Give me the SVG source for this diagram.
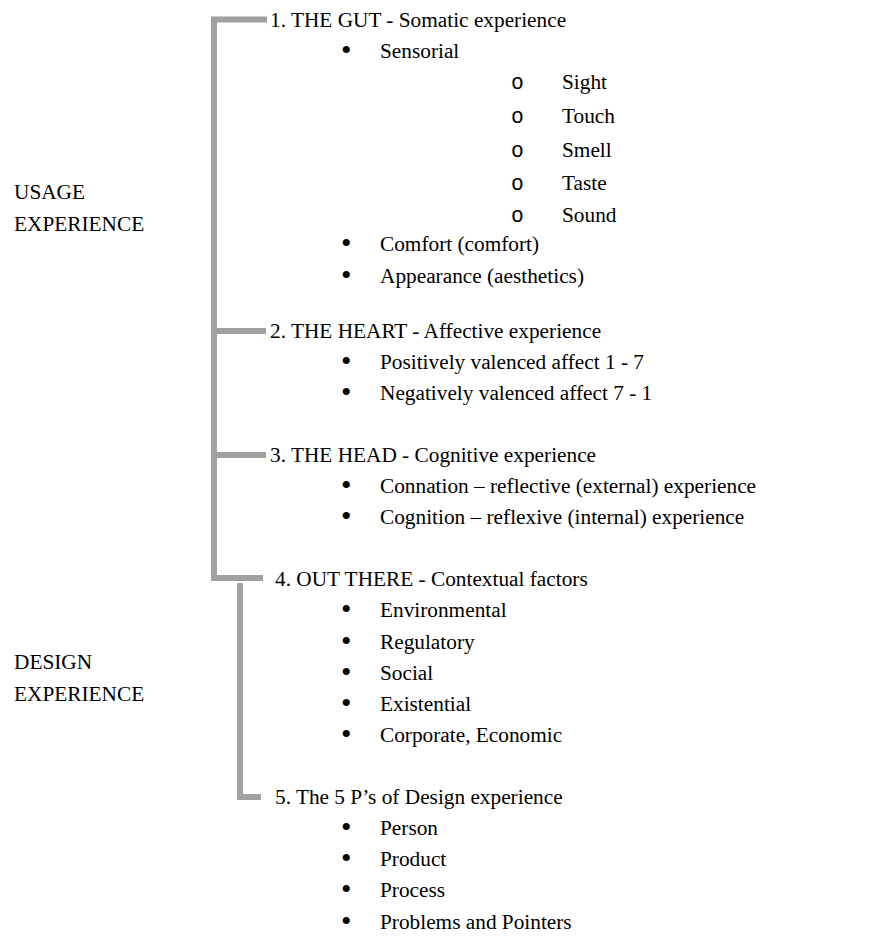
<svg xmlns="http://www.w3.org/2000/svg" width="884" height="945" viewBox="0 0 884 945">
<style>
text{font-family:"Liberation Serif","Times New Roman",serif;font-size:21.3px;fill:#000}
.b{font-size:30px}
.o{font-family:"Liberation Mono","Courier New",monospace;font-size:21.3px}
.ln{stroke:#a0a0a0;stroke-width:6;fill:none}
</style>
<rect width="884" height="945" fill="#fff"/>
<g id="connectors">
<path class="ln" d="M267,19.5 H214 V578 H263"/>
<path class="ln" d="M217,331 H266"/>
<path class="ln" d="M217,455 H266"/>
<path class="ln" d="M240,583 V797 H261"/>
</g>
<g id="usage"><text x="14" y="199">USAGE</text><text x="14" y="231">EXPERIENCE</text></g>
<g id="design"><text x="14" y="669">DESIGN</text><text x="14" y="701">EXPERIENCE</text></g>
<g id="gut">
<text x="270" y="27">1. THE GUT - Somatic experience</text>
<text x="341" y="60" class="b">•</text><text x="380" y="58">Sensorial</text>
<text x="511" y="89" class="o">o</text><text x="562" y="89">Sight</text>
<text x="511" y="123" class="o">o</text><text x="562" y="123">Touch</text>
<text x="511" y="157" class="o">o</text><text x="562" y="157">Smell</text>
<text x="511" y="190" class="o">o</text><text x="562" y="190">Taste</text>
<text x="511" y="222" class="o">o</text><text x="562" y="222">Sound</text>
<text x="341" y="253" class="b">•</text><text x="380" y="251">Comfort (comfort)</text>
<text x="341" y="285" class="b">•</text><text x="380" y="283">Appearance (aesthetics)</text>
</g>
<g id="heart">
<text x="270" y="338">2. THE HEART - Affective experience</text>
<text x="341" y="371" class="b">•</text><text x="380" y="369">Positively valenced affect 1 - 7</text>
<text x="341" y="402" class="b">•</text><text x="380" y="400">Negatively valenced affect 7 - 1</text>
</g>
<g id="head">
<text x="270" y="462">3. THE HEAD - Cognitive experience</text>
<text x="341" y="495" class="b">•</text><text x="380" y="493">Connation – reflective (external) experience</text>
<text x="341" y="526" class="b">•</text><text x="380" y="524">Cognition – reflexive (internal) experience</text>
</g>
<g id="outthere">
<text x="275" y="586">4. OUT THERE - Contextual factors</text>
<text x="341" y="619" class="b">•</text><text x="380" y="617">Environmental</text>
<text x="341" y="651" class="b">•</text><text x="380" y="649">Regulatory</text>
<text x="341" y="682" class="b">•</text><text x="380" y="680">Social</text>
<text x="341" y="713" class="b">•</text><text x="380" y="711">Existential</text>
<text x="341" y="744" class="b">•</text><text x="380" y="742">Corporate, Economic</text>
</g>
<g id="fivep">
<text x="275" y="804">5. The 5 P’s of Design experience</text>
<text x="341" y="837" class="b">•</text><text x="380" y="835">Person</text>
<text x="341" y="868" class="b">•</text><text x="380" y="866">Product</text>
<text x="341" y="899" class="b">•</text><text x="380" y="897">Process</text>
<text x="341" y="931" class="b">•</text><text x="380" y="929">Problems and Pointers</text>
</g>
</svg>
